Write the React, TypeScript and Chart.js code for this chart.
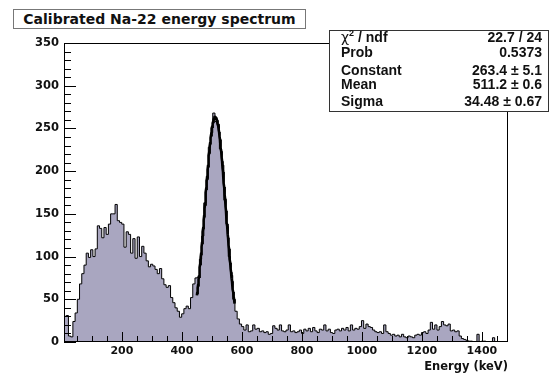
import React, { useEffect, useRef } from "react";
import { Chart, registerables } from "chart.js";

Chart.register(...registerables);

// ---- data ----
const binStart = 7; // keV, lower edge of the first bin
const binWidth = 7.4; // keV
const counts = [
  30, 31, 7, 6, 24, 34, 50, 68, 80, 90,
  104, 99, 108, 100, 109, 136, 133, 122, 134, 126,
  138, 150, 150, 161, 142, 140, 138, 111, 129, 126,
  104, 121, 98, 123, 100, 112, 104, 95, 88, 91,
  89, 85, 80, 86, 74, 67, 64, 66, 52, 46,
  40, 36, 29, 33, 39, 42, 39, 52, 68, 75,
  76, 97, 124, 163, 190, 228, 245, 268, 258, 255,
  226, 207, 166, 138, 100, 78, 50, 36, 27, 21,
  18, 14, 20, 12, 13, 20, 15, 16, 12, 13,
  11, 12, 9, 10, 19, 16, 14, 20, 13, 12,
  14, 20, 12, 13, 11, 12, 14, 10, 15, 13,
  16, 12, 17, 13, 11, 15, 14, 20, 13, 15,
  11, 10, 14, 15, 13, 16, 14, 17, 13, 20,
  14, 16, 15, 18, 25, 16, 21, 18, 17, 14,
  12, 11, 12, 10, 20, 12, 10, 8, 9, 7,
  8, 6, 9, 6, 5, 7, 6, 5, 8, 9,
  8, 11, 12, 10, 14, 23, 15, 20, 14, 18,
  24, 20, 19, 21, 13, 14, 12, 13, 7, 4,
  3, 2, 1, 1, 0, 0, 9, 0, 1, 1,
  0, 0, 0, 5, 0, 0, 0, 0, 0, 0,
];
const xMin = 7;
const xMax = 1487;
const yMax = 350;
const yTickStep = 50;
const xTickValues = [200, 400, 600, 800, 1000, 1200, 1400];
const yMinorStep = 10;
const xMinorStep = 50;

// Gaussian fit parameters (from the stats box)
const fitConstant = 263.4;
const fitMean = 511.2;
const fitSigma = 34.48;
const fitLow = 450;
const fitHigh = 576;

const titleText = "Calibrated Na-22 energy spectrum";
const xTitle = "Energy (keV)";
const statLabels = ["/ ndf", "Prob", "Constant", "Mean", "Sigma"];
const statValues = ["22.7 / 24", "0.5373", "263.4 \u00b1 5.1", "511.2 \u00b1 0.6", "34.48 \u00b1 0.67"];
const statBaselines = [42, 57, 75, 89, 106];

const FILL = "#a9a6c0";
const TICK_FONT = "'DejaVu Sans', sans-serif";

const histPoints = counts
  .map((c, i) => ({ x: binStart + i * binWidth, y: c }))
  .concat([{ x: binStart + counts.length * binWidth, y: 0 }]);

const fitPoints: { x: number; y: number }[] = [];
for (let e = fitLow; e <= fitHigh; e += 1) {
  fitPoints.push({
    x: e,
    y: fitConstant * Math.exp(-((e - fitMean) ** 2) / (2 * fitSigma * fitSigma)),
  });
}

const frameTicks = {
  id: "frameTicks",
  afterDatasetsDraw(chart: any) {
    const { ctx, chartArea, scales } = chart;
    const { left, right, top, bottom } = chartArea;
    const x = scales.x;
    const y = scales.y;
    ctx.save();
    ctx.strokeStyle = "#000";
    ctx.lineWidth = 1;
    ctx.beginPath();
    for (let v = 0; v <= yMax; v += yMinorStep) {
      const py = Math.round(y.getPixelForValue(v)) + 0.5;
      const len = v % yTickStep === 0 ? 12 : 7;
      ctx.moveTo(left, py);
      ctx.lineTo(left + len, py);
    }
    for (let v = xMinorStep; v < xMax; v += xMinorStep) {
      if (v < xMin) continue;
      const px = Math.round(x.getPixelForValue(v)) + 0.5;
      const len = v % 200 === 0 ? 10 : 6;
      ctx.moveTo(px, bottom);
      ctx.lineTo(px, bottom - len);
    }
    ctx.stroke();
    ctx.strokeRect(left + 0.5, top + 0.5, right - left - 1, bottom - top - 1);
    ctx.restore();
  },
};

export default function App() {
  const ref = useRef<HTMLCanvasElement>(null);
  useEffect(() => {
    const chart = new Chart(ref.current!, {
      type: "line",
      data: {
        datasets: [
          {
            label: "hist",
            data: histPoints,
            stepped: "before",
            fill: "origin",
            backgroundColor: FILL,
            borderColor: "#000",
            borderWidth: 1,
            pointRadius: 0,
            order: 2,
          },
          {
            label: "fit",
            data: fitPoints,
            fill: false,
            borderColor: "#000",
            borderWidth: 2.6,
            pointRadius: 0,
            tension: 0,
            order: 1,
          },
        ],
      },
      options: {
        responsive: false,
        animation: false,
        events: [],
        layout: { padding: { left: 0, top: 43, right: 45, bottom: 0 } },
        plugins: {
          legend: { display: false },
          title: { display: false },
          tooltip: { enabled: false },
        },
        scales: {
          x: {
            type: "linear",
            min: xMin,
            max: xMax,
            grid: { display: false, drawTicks: false },
            border: { display: false },
            afterBuildTicks: (s: any) => {
              s.ticks = xTickValues.map((v) => ({ value: v }));
            },
            afterFit: (s: any) => {
              s.height = 33;
            },
            ticks: {
              padding: 3,
              maxRotation: 0,
              autoSkip: false,
              color: "#111",
              callback: (v: any) => String(v),
              font: { family: TICK_FONT, weight: "bold", size: 11 },
            },
            title: {
              display: true,
              text: xTitle,
              align: "end",
              color: "#111",
              padding: { top: 0, bottom: 1 },
              font: { family: TICK_FONT, weight: "bold", size: 11.5 },
            },
          },
          y: {
            type: "linear",
            min: 0,
            max: yMax,
            grid: { display: false, drawTicks: false },
            border: { display: false },
            afterFit: (s: any) => {
              s.width = 64;
            },
            ticks: {
              stepSize: yTickStep,
              padding: 5,
              color: "#111",
              callback: (v: any) => String(v),
              font: { family: TICK_FONT, weight: "bold", size: 11.5 },
            },
          },
        },
      },
      plugins: [frameTicks],
    } as any);
    return () => chart.destroy();
  }, []);

  const statFont = "bold 14px 'Liberation Sans', Arial, sans-serif";

  return (
    <div
      style={{
        position: "absolute",
        left: 0,
        top: 0,
        width: 553,
        height: 375,
        background: "#fff",
        overflow: "hidden",
      }}
    >
      <canvas
        ref={ref}
        width={553}
        height={375}
        style={{ position: "absolute", left: 0, top: 0, width: 553, height: 375 }}
      />
      <div
        style={{
          position: "absolute",
          left: 13,
          top: 9,
          width: 293,
          height: 20,
          boxSizing: "border-box",
          border: "1px solid #777",
          background: "#fff",
          font: `bold 14px ${TICK_FONT}`,
          color: "#111",
          textAlign: "center",
          lineHeight: "18px",
          whiteSpace: "nowrap",
        }}
      >
        {titleText}
      </div>
      <div
        style={{
          position: "absolute",
          left: 329,
          top: 30,
          width: 220,
          height: 82,
          boxSizing: "border-box",
          border: "1px solid #333",
          background: "#fff",
        }}
      />
      {statLabels.map((lab, i) => (
        <div
          key={"l" + i}
          style={{
            position: "absolute",
            left: 341,
            top: statBaselines[i] - 13,
            font: statFont,
            lineHeight: "16px",
            color: "#111",
            whiteSpace: "nowrap",
          }}
        >
          {i === 0 ? (
            <span>
              <span style={{ fontFamily: "'DejaVu Sans', sans-serif", fontWeight: "normal" }}>χ</span>
              <sup style={{ fontSize: 9, verticalAlign: 0, position: "relative", top: -6 }}>2</sup> {lab}
            </span>
          ) : (
            lab
          )}
        </div>
      ))}
      {statValues.map((val, i) => (
        <div
          key={"v" + i}
          style={{
            position: "absolute",
            right: 553 - 542,
            top: statBaselines[i] - 13,
            font: statFont,
            lineHeight: "16px",
            color: "#111",
            whiteSpace: "nowrap",
            textAlign: "right",
          }}
        >
          {val}
        </div>
      ))}
    </div>
  );
}
